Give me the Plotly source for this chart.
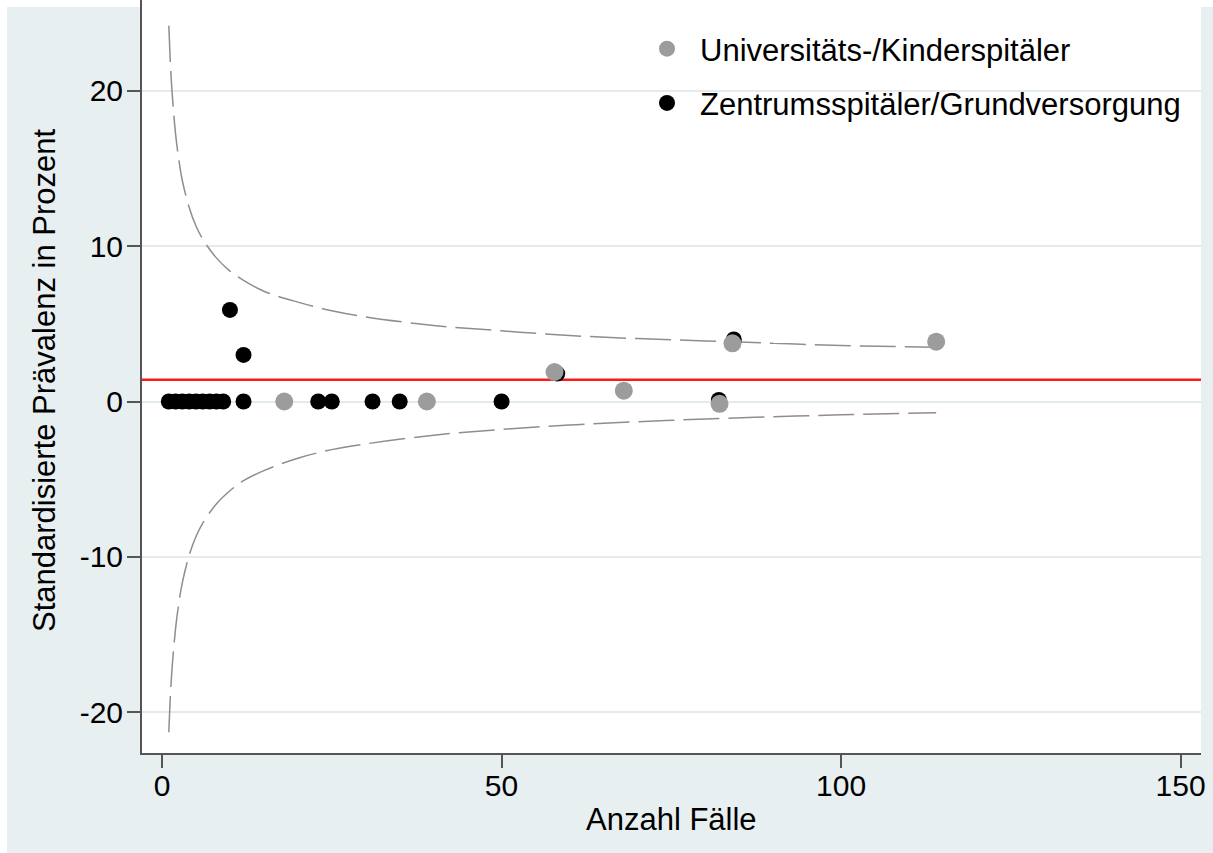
import plotly.graph_objects as go

# ---- data ----
# Universitäts-/Kinderspitäler (grey)
n_uni = [18, 39, 57.8, 68, 82.1, 84, 114]
v_uni = [0, 0, 1.9, 0.7, -0.15, 3.75, 3.85]

# Zentrumsspitäler/Grundversorgung (black)
n_zen = [1, 2, 3, 4, 5, 6, 7, 8, 9, 10, 12, 12, 23, 25, 31, 35, 50, 58.2, 82, 84.2]
v_zen = [0, 0, 0, 0, 0, 0, 0, 0, 0, 5.9, 3.0, 0, 0, 0, 0, 0, 0, 1.8, 0.1, 4.0]

# overall mean (red line)
mean_rate = 1.4

# funnel control limits (dashed)
n_lim = [1, 1.25, 1.5, 2, 2.5, 3, 4, 5, 6, 8, 10, 12, 15, 20, 25, 30, 40, 50, 60, 70, 80, 90, 100, 114]
upper = [24.2, 21.6, 19.8, 17.2, 15.5, 14.2, 12.5, 11.3, 10.45, 9.25, 8.4, 7.8, 7.1, 6.4, 5.85, 5.45,
         4.9, 4.55, 4.25, 4.05, 3.9, 3.75, 3.6, 3.5]
lower = [-21.3, -18.8, -17.05, -14.6, -12.9, -11.65, -9.9, -8.7, -7.83, -6.6, -5.75, -5.1, -4.45,
         -3.65, -3.1, -2.73, -2.17, -1.8, -1.52, -1.3, -1.13, -0.98, -0.86, -0.72]

x_ticks = [0, 50, 100, 150]
y_ticks = [-20, -10, 0, 10, 20]
y_tick_labels = ["-20", "-10", "0", "10", "20"]

name_uni = "Universitäts-/Kinderspitäler"
name_zen = "Zentrumsspitäler/Grundversorgung"
x_title = "Anzahl Fälle"
y_title = "Standardisierte Prävalenz in Prozent"

FONT = "Liberation Sans, Arial, Helvetica, sans-serif"
BG = "#e8eff1"
GRID = "#e3ebed"
AX = "#555555"

W, H = 1213, 853
L, R, T, B = 142, 12, 0, 100
pw, ph = W - L - R, H - T - B

def px_x(p):
    return (p - L) / pw

def px_y(p):
    return (H - B - p) / ph

fig = go.Figure()

# outer light background and white plot area
fig.add_shape(type="rect", xref="paper", yref="paper", layer="below",
              x0=px_x(7), x1=px_x(1213), y0=px_y(853), y1=px_y(7),
              fillcolor=BG, line=dict(width=0))
fig.add_shape(type="rect", xref="paper", yref="paper", layer="below",
              x0=0, x1=1, y0=0, y1=1, fillcolor="white", line=dict(width=0))

dash_line = dict(color="#8e8e8e", width=1.5, dash="36px,9px")
fig.add_trace(go.Scatter(x=n_lim, y=upper, mode="lines", line=dict(shape="spline", **dash_line),
                         showlegend=False, hoverinfo="skip"))
fig.add_trace(go.Scatter(x=n_lim, y=lower, mode="lines", line=dict(shape="spline", **dash_line),
                         showlegend=False, hoverinfo="skip"))

fig.add_trace(go.Scatter(x=n_zen, y=v_zen, mode="markers", name=name_zen,
                         marker=dict(color="#000000", size=16, line=dict(width=0)),
                         legendrank=2, legendgroup="b"))
fig.add_trace(go.Scatter(x=n_uni, y=v_uni, mode="markers", name=name_uni,
                         marker=dict(color="#9c9c9c", size=18, line=dict(width=0)),
                         legendrank=1, legendgroup="a"))

fig.add_hline(y=mean_rate, line=dict(color="#ff1a1a", width=2.5), layer="below")

fig.add_annotation(text=x_title, xref="paper", yref="paper", x=0.5, y=px_y(820),
                   xanchor="center", yanchor="middle", showarrow=False,
                   font=dict(family=FONT, size=31, color="#000"))
fig.add_annotation(text=y_title, xref="paper", yref="paper", x=px_x(44), y=px_y(380),
                   xanchor="center", yanchor="middle", showarrow=False, textangle=-90,
                   font=dict(family=FONT, size=31, color="#000"))

fig.update_layout(
    width=W, height=H,
    margin=dict(l=L, r=R, t=T, b=B, pad=0, autoexpand=False),
    paper_bgcolor="white", plot_bgcolor="white",
    font=dict(family=FONT, size=30, color="#000"),
    showlegend=True,
    legend=dict(x=px_x(634), y=px_y(22), xanchor="left", yanchor="top",
                bgcolor="rgba(0,0,0,0)", font=dict(size=31, color="#000"),
                itemwidth=56, tracegroupgap=11, traceorder="grouped"),
    xaxis=dict(range=[-2.95, 153], tickvals=x_ticks, ticks="outside", ticklen=13, tickwidth=2,
               tickcolor=AX, showline=True, linecolor=AX, linewidth=2, showgrid=False,
               zeroline=False, tickfont=dict(size=30, color="#000"), automargin=False,
               ticklabelstandoff=-8),
    yaxis=dict(range=[-22.64, 25.86], tickvals=y_ticks, ticktext=y_tick_labels, ticks="outside",
               ticklen=13, tickwidth=2,
               tickcolor=AX, showline=True, linecolor=AX, linewidth=2, showgrid=True,
               gridcolor=GRID, gridwidth=2, zeroline=False, tickfont=dict(size=30, color="#000"),
               ticklabelstandoff=-2, automargin=False),
)

fig.write_html("out.html", post_script="document.body.style.margin='0';",
               config={"displayModeBar": False})
